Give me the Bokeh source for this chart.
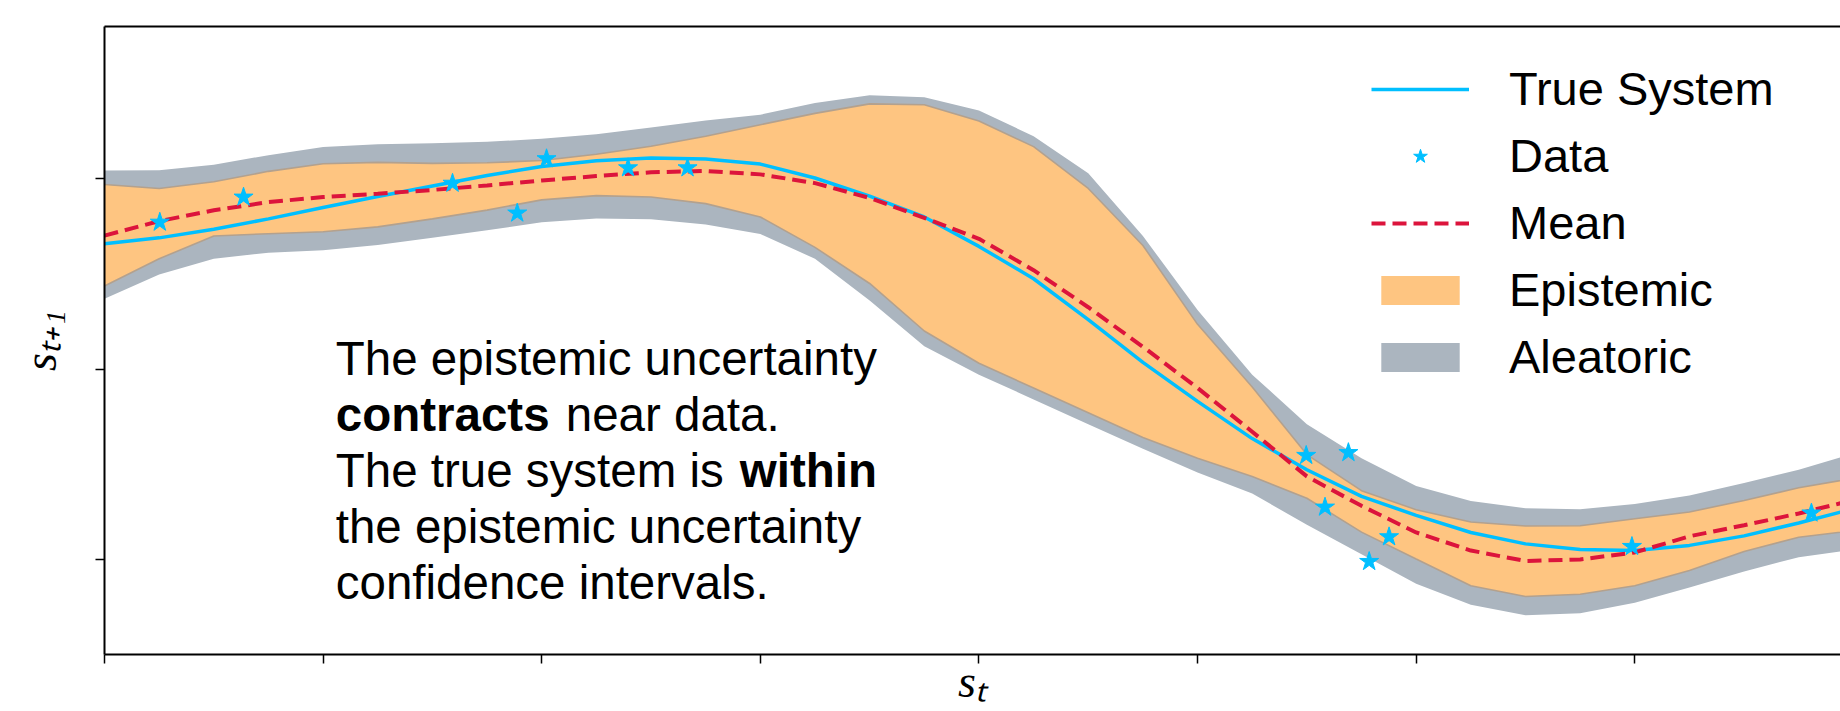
from bokeh.plotting import figure
from bokeh.models import Range1d, LinearAxis, FixedTicker, Legend, LegendItem, Label
from bokeh.embed import file_html
from bokeh.resources import INLINE

# ---------------- data ----------------
x_grid = [0.0, 0.25, 0.5, 0.75, 1.0, 1.25, 1.5, 1.75, 2.0, 2.25, 2.5, 2.75,
          3.0, 3.25, 3.5, 3.75, 4.0, 4.25, 4.5, 4.75, 5.0, 5.25, 5.5, 5.75,
          6.0, 6.25, 6.5, 6.75, 7.0, 7.25, 7.5, 7.75, 8.0]

true_system = [0.659, 0.690, 0.735, 0.790, 0.850, 0.908, 0.963, 1.018, 1.065, 1.096,
               1.110, 1.105, 1.078, 1.005, 0.910, 0.800, 0.645, 0.475, 0.260, 0.035,
               -0.170, -0.366, -0.530, -0.670, -0.770, -0.860, -0.920, -0.950, -0.955,
               -0.928, -0.878, -0.810, -0.735]

mean = [0.702, 0.778, 0.835, 0.878, 0.905, 0.922, 0.942, 0.966, 0.992, 1.015,
        1.035, 1.042, 1.024, 0.978, 0.900, 0.795, 0.685, 0.520, 0.325, 0.117,
        -0.100, -0.330, -0.565, -0.720, -0.860, -0.955, -1.010, -1.002, -0.965,
        -0.880, -0.822, -0.760, -0.690]

epistemic_upper = [0.971, 0.950, 0.985, 1.040, 1.080, 1.087, 1.082, 1.085, 1.097, 1.130,
                   1.172, 1.225, 1.285, 1.345, 1.395, 1.390, 1.305, 1.170, 0.950, 0.650,
                   0.235, -0.095, -0.450, -0.640, -0.740, -0.805, -0.826, -0.825, -0.788,
                   -0.752, -0.692, -0.625, -0.575]

epistemic_lower = [0.437, 0.580, 0.700, 0.712, 0.722, 0.748, 0.790, 0.836, 0.890, 0.912,
                   0.905, 0.870, 0.800, 0.640, 0.450, 0.200, 0.030, -0.100, -0.230, -0.360,
                   -0.470, -0.565, -0.680, -0.858, -1.000, -1.140, -1.197, -1.185, -1.140,
                   -1.060, -0.960, -0.885, -0.850]

aleatoric_upper = [1.044, 1.046, 1.075, 1.125, 1.168, 1.183, 1.188, 1.195, 1.211, 1.235,
                   1.270, 1.307, 1.338, 1.400, 1.440, 1.430, 1.360, 1.225, 1.030, 0.700,
                   0.310, -0.030, -0.290, -0.470, -0.615, -0.695, -0.732, -0.738, -0.710,
                   -0.665, -0.600, -0.530, -0.445]

aleatoric_lower = [0.369, 0.497, 0.580, 0.612, 0.625, 0.652, 0.690, 0.730, 0.772, 0.792,
                   0.788, 0.760, 0.710, 0.580, 0.360, 0.120, -0.030, -0.160, -0.290, -0.420,
                   -0.545, -0.655, -0.820, -0.975, -1.130, -1.240, -1.295, -1.285, -1.230,
                   -1.150, -1.065, -0.990, -0.950]

data_x = [0.253, 0.636, 1.592, 1.888, 2.022, 2.395, 2.667,
          5.497, 5.690, 5.583, 5.876, 5.785, 6.987, 7.808]
data_y = [0.772, 0.904, 0.977, 0.820, 1.106, 1.058, 1.058,
          -0.455, -0.440, -0.727, -0.883, -1.013, -0.934, -0.758]

x_ticks = [0, 1, 2, 3, 4, 5, 6, 7]
y_ticks = [-1, 0, 1]

x_label = "s\u209c"
y_label = "s\u209c\u208a\u2081"

legend_labels = ["True System", "Data", "Mean", "Epistemic", "Aleatoric"]

note_line1 = "The epistemic uncertainty"
note_line2 = ["contracts", "near data."]
note_line3 = ["The true system is", "within"]
note_line4 = "the epistemic uncertainty"
note_line5 = "confidence intervals."

# ---------------- styles ----------------
CYAN = "#00BFFF"
RED = "#DC143C"
ORANGE = "#FEC581"
GRAY = "#ABB5BF"
EDGE = "#B3A18E"
SANS = "Liberation Sans"
SERIF = "Liberation Serif"

p = figure(width=1840, height=711,
           x_range=Range1d(0, 7.941), y_range=Range1d(-1.502, 1.802),
           output_backend="svg", toolbar_location=None,
           min_border_left=104, min_border_right=0,
           min_border_top=26, min_border_bottom=57)
p.outline_line_color = None
p.xgrid.visible = False
p.ygrid.visible = False
p.background_fill_color = "white"

for ax, ticks in ((p.xaxis[0], x_ticks), (p.yaxis[0], y_ticks)):
    ax.ticker = FixedTicker(ticks=ticks)
    ax.major_label_overrides = {t: "" for t in ticks}
    ax.axis_line_width = 2
    ax.axis_line_color = "black"
    ax.major_tick_line_width = 1.5
    ax.major_tick_line_color = "black"
    ax.major_tick_in = 0
    ax.major_tick_out = 9
    ax.minor_tick_line_color = None
    ax.major_label_standoff = 0
    ax.axis_label_text_font = SERIF
    ax.axis_label_text_font_style = "italic"
    ax.axis_label_text_font_size = "46px"
    ax.axis_label_text_color = "black"

p.xaxis[0].axis_label = x_label
p.xaxis[0].axis_label_standoff = -8
p.yaxis[0].axis_label = y_label
p.yaxis[0].axis_label_standoff = 30

top = LinearAxis(ticker=FixedTicker(ticks=[]), axis_line_width=2, axis_line_color="black",
                 major_tick_line_color=None, minor_tick_line_color=None,
                 major_label_standoff=0)
p.add_layout(top, "above")

# ---------------- glyphs ----------------
r_alea = p.varea(x=x_grid, y1=aleatoric_lower, y2=aleatoric_upper, fill_color=GRAY)
r_epi = p.varea(x=x_grid, y1=epistemic_lower, y2=epistemic_upper, fill_color=ORANGE)
p.line(x_grid, epistemic_upper, line_color=EDGE, line_width=1.6)
p.line(x_grid, epistemic_lower, line_color=EDGE, line_width=1.6)
r_true = p.line(x_grid, true_system, line_color=CYAN, line_width=3.5)
r_mean = p.line(x_grid, mean, line_color=RED, line_width=4, line_dash="14 7")
r_data = p.scatter(data_x, data_y, marker="star", size=20, fill_color=CYAN,
                   line_color=CYAN, line_width=1)

legend = Legend(items=[
    LegendItem(label=legend_labels[0], renderers=[r_true]),
    LegendItem(label=legend_labels[1], renderers=[r_data]),
    LegendItem(label=legend_labels[2], renderers=[r_mean]),
    LegendItem(label=legend_labels[3], renderers=[r_epi]),
    LegendItem(label=legend_labels[4], renderers=[r_alea]),
], location=(1267, 270))
legend.label_text_font = SANS
legend.label_text_font_size = "47px"
legend.label_text_color = "black"
legend.glyph_width = 98
legend.glyph_height = 36
legend.label_height = 36
legend.label_standoff = 40
legend.spacing = 12
legend.padding = 10
legend.margin = 0
legend.border_line_color = None
legend.background_fill_alpha = 0
p.add_layout(legend, "center")

# ---------------- annotation text ----------------
def note(x, y, text, bold=False):
    p.add_layout(Label(x=x, y=y, text=text, text_font=SANS, text_font_size="47.5px",
                       text_font_style="bold" if bold else "normal",
                       text_color="black", text_align="left",
                       text_baseline="alphabetic"))

note(1.0577, 0.053, note_line1)
note(1.0577, -0.241, note_line2[0], bold=True)
note(2.110, -0.241, note_line2[1])
note(1.0577, -0.535, note_line3[0])
note(2.906, -0.535, note_line3[1], bold=True)
note(1.0577, -0.829, note_line4)
note(1.0577, -1.122, note_line5)

open("out.html", "w").write(file_html(p, INLINE))
